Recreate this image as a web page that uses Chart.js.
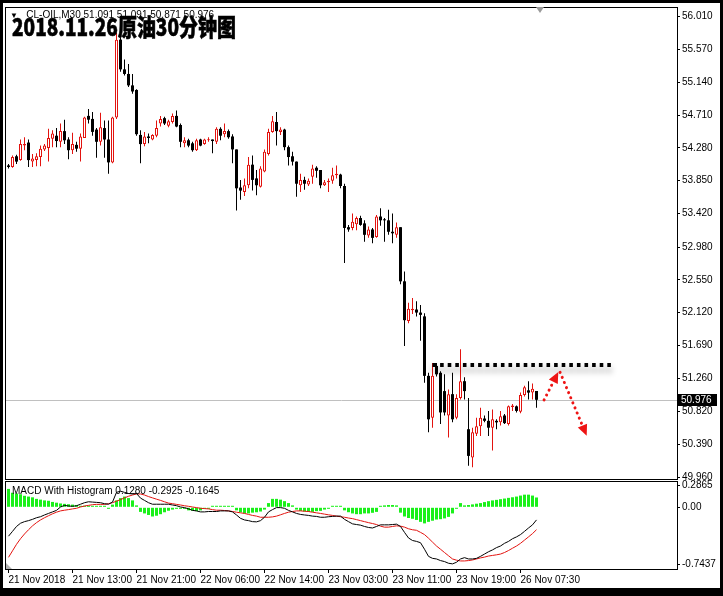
<!DOCTYPE html>
<html><head><meta charset="utf-8">
<script src="https://cdn.jsdelivr.net/npm/chart.js@4.4.1/dist/chart.umd.min.js"></script>
<style>
html,body{margin:0;padding:0;background:#fff;}
#wrap{position:relative;width:723px;height:596px;overflow:hidden;background:#fff;}
canvas{position:absolute;left:0;}
#c1{top:0;} #c2{top:470px;}
.txt{position:absolute;font-family:"Liberation Sans",Arial,sans-serif;font-size:10px;line-height:12px;color:#000;white-space:nowrap;}
#hdr{left:10px;top:9px;}
#mhdr{left:12px;top:485px;}
#title{position:absolute;left:12px;top:14px;font-family:"Noto Sans CJK SC",sans-serif;font-weight:900;font-size:24px;line-height:24px;color:#000;-webkit-text-stroke:0.6px #000;transform-origin:0 0;white-space:nowrap;}
#shift{position:absolute;left:536px;top:7px;width:0;height:0;border-left:4px solid transparent;border-right:4px solid transparent;border-top:6px solid #9a9a9a;}
#corner{position:absolute;left:6px;top:563px;width:0;height:0;border-bottom:6px solid #b0b0b0;border-right:6px solid transparent;}
#frame{position:absolute;left:0;top:0;width:723px;height:596px;box-sizing:border-box;border-style:solid;border-color:#000;border-width:3px 3px 8px 3px;pointer-events:none;}
</style></head>
<body>
<div id="wrap">
<canvas id="c1" width="723" height="490"></canvas>
<canvas id="c2" width="723" height="126"></canvas>
<div id="hdr" class="txt"></div>
<div id="mhdr" class="txt"></div>
<div id="title"></div>
<div id="shift"></div>
<div id="corner"></div>
<div id="frame"></div>
</div>
<script>
// ---------- data ----------
const opens=[54.05,54.03,54.17,54.12,54.31,54.35,54.10,54.12,54.16,54.26,
54.28,54.40,54.44,54.36,54.50,54.39,54.25,54.32,54.27,54.41,
54.70,54.66,54.52,54.36,54.54,54.39,54.09,54.68,55.70,55.31,
55.25,55.10,55.04,54.45,54.33,54.43,54.39,54.44,54.60,54.67,
54.57,54.62,54.70,54.58,54.34,54.38,54.34,54.25,54.39,54.33,
54.38,54.39,54.36,54.53,54.46,54.50,54.43,54.26,53.76,53.70,
53.79,54.06,53.88,53.77,53.97,54.20,54.49,54.62,54.49,54.52,
54.29,54.17,54.10,53.79,53.86,53.80,53.90,54.02,53.99,53.79,
53.83,53.85,53.92,53.93,53.78,53.24,53.23,53.28,53.36,53.29,
53.13,53.21,53.11,53.38,53.34,53.33,53.18,53.14,53.24,52.53,
52.01,52.15,52.16,52.12,52.07,51.29,50.74,51.42,51.33,51.09,
50.77,51.05,50.74,51.00,51.22,50.59,50.22,50.53,50.63,50.73,
50.70,50.61,50.70,50.68,50.77,50.66,50.88,50.89,50.82,51.04,
51.10,51.07,51.091];
const highs=[54.07,54.18,54.19,54.39,54.42,54.39,54.20,54.21,54.31,54.33,
54.53,54.51,54.54,54.60,54.65,54.42,54.48,54.36,54.47,54.69,
54.79,54.75,54.54,54.74,54.64,54.64,54.69,55.79,55.72,55.44,
55.38,55.25,55.05,54.51,54.49,54.47,54.46,54.64,54.70,54.69,
54.65,54.73,54.77,54.60,54.42,54.40,54.36,54.40,54.40,54.40,
54.42,54.39,54.55,54.55,54.60,54.52,54.46,54.26,53.86,53.88,
54.16,54.18,53.99,54.04,54.26,54.53,54.70,54.75,54.55,54.53,
54.31,54.23,54.10,53.94,53.90,53.88,54.06,54.04,53.99,53.86,
53.88,54.02,54.05,53.94,53.81,53.27,53.42,53.38,53.39,53.33,
53.25,53.23,53.40,53.49,53.36,53.47,53.42,53.30,53.24,52.66,
52.25,52.31,52.27,52.22,52.11,51.33,51.46,51.46,51.35,51.31,
51.11,51.33,51.05,51.64,51.27,51.00,50.61,50.74,50.87,50.77,
50.83,50.85,50.72,50.83,50.79,50.90,50.92,50.90,51.07,51.16,
51.22,51.19,51.091];
const lows=[54.01,54.02,54.07,54.11,54.25,54.03,54.03,54.04,54.04,54.24,
54.10,54.29,54.29,54.29,54.33,54.13,54.20,54.23,54.10,54.41,
54.60,54.44,54.15,54.31,54.15,53.94,54.08,54.66,55.28,55.23,
55.08,54.99,54.44,54.08,54.30,54.34,54.38,54.42,54.56,54.58,
54.55,54.60,54.55,54.29,54.29,54.29,54.23,54.24,54.30,54.32,
54.36,54.21,54.33,54.38,54.42,54.40,54.08,53.46,53.60,53.65,
53.75,53.72,53.66,53.76,53.96,54.18,54.48,54.31,54.45,54.25,
54.05,54.05,53.64,53.70,53.73,53.78,53.81,53.89,53.75,53.78,
53.70,53.81,53.88,53.75,52.77,53.18,53.20,53.20,53.26,53.05,
53.10,53.03,53.10,53.26,53.05,53.14,53.03,53.10,52.49,51.68,
51.98,52.10,52.07,51.75,51.20,50.55,50.61,51.28,50.66,50.77,
50.48,50.68,50.72,50.98,50.98,50.11,50.09,50.50,50.50,50.68,
50.50,50.31,50.59,50.64,50.66,50.64,50.83,50.81,50.80,51.02,
50.98,50.98,50.871];
const closes=[54.03,54.16,54.10,54.33,54.33,54.12,54.14,54.17,54.27,54.31,
54.41,54.47,54.37,54.50,54.38,54.25,54.33,54.27,54.43,54.68,
54.65,54.49,54.36,54.55,54.39,54.09,54.68,55.70,55.31,55.25,
55.10,55.02,54.46,54.33,54.43,54.41,54.45,54.54,54.66,54.60,
54.63,54.70,54.56,54.36,54.38,54.31,54.25,54.38,54.31,54.39,
54.39,54.37,54.53,54.44,54.50,54.42,54.26,53.75,53.72,53.79,
54.06,53.86,53.79,54.01,54.23,54.49,54.63,54.50,54.52,54.29,
54.16,54.10,53.81,53.86,53.81,53.85,54.01,53.98,53.79,53.83,
53.85,53.92,53.94,53.78,53.23,53.21,53.31,53.36,53.27,53.14,
53.21,53.10,53.38,53.33,53.33,53.18,53.16,53.24,52.53,52.02,
52.17,52.17,52.12,52.09,51.29,50.72,51.29,51.31,50.81,50.81,
51.05,50.72,51.00,51.22,51.09,50.24,50.55,50.63,50.74,50.70,
50.61,50.72,50.68,50.76,50.67,50.89,50.90,50.83,51.04,51.14,
51.07,51.12,50.976];
const histogram=[0.24,0.19,0.18,0.17,0.15,0.14,0.13,0.11,0.10,0.09,
0.085,0.07,0.06,0.05,0.045,0.04,0.035,0.03,0.012,0.01,
0.008,0.006,0.005,0.004,0.003,-0.02,0.035,0.09,0.12,0.14,
0.12,0.09,0.025,-0.06,-0.08,-0.10,-0.12,-0.11,-0.09,-0.065,
-0.045,-0.03,-0.02,-0.013,-0.02,-0.04,-0.045,-0.05,-0.04,-0.01,
-0.003,0.003,0.004,0.01,0.015,0.015,0.01,-0.04,-0.065,-0.08,
-0.08,-0.07,-0.065,-0.055,-0.03,0.055,0.11,0.11,0.10,0.08,
0.055,0.025,-0.03,-0.047,-0.055,-0.06,-0.06,-0.05,-0.047,-0.03,
-0.005,0.003,0.006,0.003,-0.04,-0.064,-0.08,-0.09,-0.09,-0.08,
-0.08,-0.072,-0.06,0.012,0.025,0.03,0.03,0.025,-0.07,-0.12,
-0.14,-0.15,-0.165,-0.19,-0.21,-0.19,-0.175,-0.16,-0.155,-0.145,
-0.125,-0.08,-0.004,0.055,0.025,0.03,0.038,0.047,0.055,0.068,
0.08,0.09,0.097,0.106,0.114,0.123,0.131,0.14,0.153,0.165,
0.165,0.153,0.128];
const macdLine=[-0.377,-0.314,-0.25,-0.208,-0.187,-0.174,-0.157,-0.136,-0.123,-0.10,
-0.08,-0.06,-0.04,0.004,0.025,0.017,0.013,0.02,0.04,0.06,
0.072,0.068,0.064,0.06,0.047,0.04,0.068,0.195,0.21,0.195,
0.18,0.174,0.18,0.12,0.09,0.06,0.04,0.04,0.04,0.04,
0.04,0.03,0.021,0.004,-0.004,-0.02,-0.04,-0.047,-0.06,-0.06,
-0.055,-0.055,-0.055,-0.047,-0.047,-0.047,-0.06,-0.10,-0.144,-0.165,
-0.174,-0.187,-0.19,-0.174,-0.13,-0.06,-0.03,-0.004,-0.004,-0.013,
-0.04,-0.06,-0.08,-0.093,-0.10,-0.106,-0.115,-0.119,-0.13,-0.13,
-0.123,-0.119,-0.115,-0.115,-0.157,-0.187,-0.216,-0.225,-0.233,-0.25,
-0.263,-0.27,-0.25,-0.229,-0.229,-0.229,-0.225,-0.22,-0.25,-0.327,
-0.40,-0.433,-0.445,-0.462,-0.547,-0.64,-0.666,-0.674,-0.695,-0.708,
-0.73,-0.738,-0.717,-0.674,-0.657,-0.674,-0.674,-0.666,-0.64,-0.61,
-0.58,-0.556,-0.526,-0.505,-0.47,-0.445,-0.41,-0.386,-0.356,-0.314,
-0.27,-0.229,-0.1645];
const signalLine=[-0.653,-0.568,-0.483,-0.41,-0.348,-0.293,-0.242,-0.20,-0.165,-0.136,
-0.11,-0.085,-0.064,-0.047,-0.038,-0.03,-0.021,-0.013,0.004,0.017,
0.025,0.034,0.038,0.038,0.038,0.047,0.06,0.08,0.10,0.123,
0.144,0.16,0.174,0.174,0.16,0.14,0.123,0.106,0.09,0.072,
0.055,0.047,0.038,0.03,0.02,0.013,0.004,-0.004,-0.013,-0.017,
-0.021,-0.03,-0.038,-0.038,-0.042,-0.047,-0.055,-0.064,-0.072,-0.08,
-0.093,-0.106,-0.115,-0.13,-0.13,-0.13,-0.125,-0.115,-0.098,-0.08,
-0.064,-0.055,-0.047,-0.047,-0.051,-0.055,-0.064,-0.072,-0.08,-0.089,
-0.098,-0.106,-0.115,-0.123,-0.13,-0.14,-0.148,-0.161,-0.174,-0.187,
-0.20,-0.212,-0.225,-0.246,-0.259,-0.259,-0.25,-0.242,-0.246,-0.259,
-0.28,-0.293,-0.30,-0.327,-0.356,-0.403,-0.454,-0.505,-0.547,-0.59,
-0.632,-0.674,-0.69,-0.70,-0.70,-0.695,-0.687,-0.674,-0.66,-0.65,
-0.636,-0.628,-0.62,-0.61,-0.59,-0.564,-0.534,-0.505,-0.47,-0.428,
-0.386,-0.343,-0.2925];
const priceTicks=[56.010,55.570,55.140,54.710,54.280,53.850,53.420,52.980,52.550,52.120,51.690,51.260,50.820,50.390,49.960];
const macdTickValues=[0.2865,0,-0.7437];
const macdTickLabels=['0.2865','0.00','-0.7437'];
const xTickIndex=[0,16,32,48,64,80,96,112,128];
const xTickLabels=['21 Nov 2018','21 Nov 13:00','21 Nov 21:00','22 Nov 06:00','22 Nov 14:00','23 Nov 03:00','23 Nov 11:00','23 Nov 19:00','26 Nov 07:30'];
const symbolHeader='CL-OIL,M30  51.091 51.091 50.871 50.976';
const macdHeader='MACD With Histogram 0.1280 -0.2925 -0.1645';
const chartTitle='2018.11.26原油30分钟图';
const resistanceLevel=51.43, resistanceFrom=106, resistanceTo=151;
const forecastUp=[[133.9,50.974],[137.45,51.34]];
const forecastDown=[[137.9,51.336],[144.55,50.504]];

// ---------- drawing ----------
const N=closes.length;
const idx=Array.from({length:N},(_,i)=>i);
const RED='#e3130f', BLACK='#000', GREEN='#1af01a';
const bull=i=>closes[i]>=opens[i];
const FONT={family:'"Liberation Sans", Arial, sans-serif',size:10};
const X_MIN=-0.625, X_MAX=167.125;

document.getElementById('hdr').innerHTML='<span style="font-size:8px">\u25BC</span>&nbsp;&nbsp;&nbsp;';
document.getElementById('hdr').appendChild(document.createTextNode(symbolHeader));
document.getElementById('mhdr').textContent=macdHeader;
const t=document.getElementById('title'); t.textContent=chartTitle;
const tw=t.getBoundingClientRect().width; t.style.transform='scaleX('+(224/tw)+')';

const panelBorder={id:'panelBorder',afterDraw(chart){const a=chart.chartArea,c=chart.ctx;c.save();c.strokeStyle='#000';c.lineWidth=1;c.strokeRect(a.left-0.5,a.top-0.5,a.right-a.left+1,a.bottom-a.top+1);c.restore();}};

function dottedArrow(ctx,x1,y1,x2,y2,color){
  const ang=Math.atan2(y2-y1,x2-x1), hl=11, hw=5;
  const bx=x2-hl*Math.cos(ang), by=y2-hl*Math.sin(ang);
  ctx.save();ctx.strokeStyle=color;ctx.lineWidth=3;ctx.lineCap='round';ctx.setLineDash([0.01,5.5]);
  ctx.beginPath();ctx.moveTo(x1,y1);ctx.lineTo(bx,by);ctx.stroke();
  ctx.setLineDash([]);ctx.fillStyle=color;ctx.beginPath();ctx.moveTo(x2,y2);
  ctx.lineTo(bx+hw*Math.sin(ang),by-hw*Math.cos(ang));ctx.lineTo(bx-hw*Math.sin(ang),by+hw*Math.cos(ang));
  ctx.closePath();ctx.fill();ctx.restore();
}

const mainOverlay={id:'mainOverlay',
  beforeDatasetsDraw(chart){const{ctx,chartArea:a,scales:{y}}=chart;const py=Math.round(y.getPixelForValue(closes[N-1]))+0.5;
    ctx.save();ctx.strokeStyle='#c0c0c0';ctx.lineWidth=1;ctx.beginPath();ctx.moveTo(a.left,py);ctx.lineTo(a.right,py);ctx.stroke();ctx.restore();},
  afterDatasetsDraw(chart){const{ctx,scales:{x,y}}=chart;
    const ry=Math.round(y.getPixelForValue(resistanceLevel));
    ctx.save();ctx.shadowColor='rgba(0,0,0,0.45)';ctx.shadowBlur=6;ctx.shadowOffsetY=5;
    ctx.strokeStyle='#000';ctx.lineWidth=4;ctx.setLineDash([3.6,4]);
    ctx.beginPath();ctx.moveTo(x.getPixelForValue(resistanceFrom),ry);ctx.lineTo(x.getPixelForValue(resistanceTo),ry);ctx.stroke();ctx.restore();
    const P=p=>[x.getPixelForValue(p[0]),y.getPixelForValue(p[1])];
    let a=P(forecastUp[0]),b=P(forecastUp[1]);dottedArrow(ctx,a[0],a[1],b[0],b[1],'#ee1414');
    a=P(forecastDown[0]);b=P(forecastDown[1]);dottedArrow(ctx,a[0],a[1],b[0],b[1],'#ee1414');
  },
  afterDraw(chart){const{ctx,chartArea:a,scales:{y}}=chart;const v=closes[N-1];const py=Math.round(y.getPixelForValue(v));
    ctx.save();ctx.fillStyle='#000';ctx.fillRect(a.right+1,py-6,39,12);ctx.fillStyle='#fff';
    ctx.font='10px "Liberation Sans", Arial, sans-serif';ctx.textBaseline='middle';ctx.fillText(v.toFixed(3),a.right+4,py+0.5);ctx.restore();}
};

const common={responsive:false,animation:false,devicePixelRatio:1,events:[],plugins:{legend:{display:false},tooltip:{enabled:false}}};

new Chart(document.getElementById('c1'),{
  type:'bar',
  data:{datasets:[
    {label:'wick',data:idx.map(i=>({x:i,y:[lows[i],highs[i]]})),backgroundColor:c=>bull(c.dataIndex)?RED:BLACK,
     barThickness:1,grouped:false,order:2,borderWidth:0,inflateAmount:0,minBarLength:1},
    {label:'body',data:idx.map(i=>({x:i,y:[Math.min(opens[i],closes[i]),Math.max(opens[i],closes[i])]})),
     backgroundColor:c=>bull(c.dataIndex)?'#fff':BLACK,borderColor:c=>bull(c.dataIndex)?RED:BLACK,
     borderWidth:c=>bull(c.dataIndex)?1:0,borderSkipped:false,barThickness:3,grouped:false,order:1,inflateAmount:0,minBarLength:1}
  ]},
  options:{...common,
    layout:{padding:{left:6,top:7,right:5,bottom:11}},
    scales:{
      x:{type:'linear',min:X_MIN,max:X_MAX,offset:false,display:false},
      y:{position:'right',min:49.937,max:56.115,
         afterFit(s){s.width=41;},
         afterBuildTicks(s){s.ticks=priceTicks.map(v=>({value:v}));},
         ticks:{font:FONT,color:'#000',padding:2,autoSkip:false,callback:v=>Number(v).toFixed(3)},
         grid:{drawOnChartArea:false,drawTicks:true,tickLength:3,color:'#000'},border:{display:false}}
    }},
  plugins:[panelBorder,mainOverlay]
});

new Chart(document.getElementById('c2'),{
  type:'bar',
  data:{datasets:[
    {type:'bar',label:'hist',data:idx.map(i=>({x:i,y:histogram[i]})),backgroundColor:GREEN,barThickness:3,grouped:false,
     order:3,borderWidth:0,inflateAmount:0,minBarLength:1.5},
    {type:'line',label:'macd',data:idx.map(i=>({x:i,y:macdLine[i]})),borderColor:'#000',borderWidth:1,pointRadius:0,tension:0,order:1},
    {type:'line',label:'signal',data:idx.map(i=>({x:i,y:signalLine[i]})),borderColor:'#e3130f',borderWidth:1,pointRadius:0,tension:0,order:2}
  ]},
  options:{...common,
    layout:{padding:{left:6,top:12,right:5,bottom:8}},
    scales:{
      x:{type:'linear',min:X_MIN,max:X_MAX,offset:false,
         afterFit(s){s.height=19;},
         afterBuildTicks(s){s.ticks=xTickIndex.map(v=>({value:v}));},
         ticks:{font:FONT,color:'#000',padding:1,autoSkip:false,maxRotation:0,minRotation:0,align:'start',
                callback:(v,i)=>xTickLabels[i]},
         grid:{drawOnChartArea:false,drawTicks:true,tickLength:4,color:'#000',offset:false},border:{display:false}},
      y:{position:'right',min:-0.805,max:0.330,
         afterFit(s){s.width=41;},
         afterBuildTicks(s){s.ticks=macdTickValues.map(v=>({value:v}));},
         ticks:{font:FONT,color:'#000',padding:2,autoSkip:false,callback:(v,i)=>macdTickLabels[i]},
         grid:{drawOnChartArea:false,drawTicks:true,tickLength:3,color:'#000'},border:{display:false}}
    }},
  plugins:[panelBorder]
});
</script>
</body></html>
